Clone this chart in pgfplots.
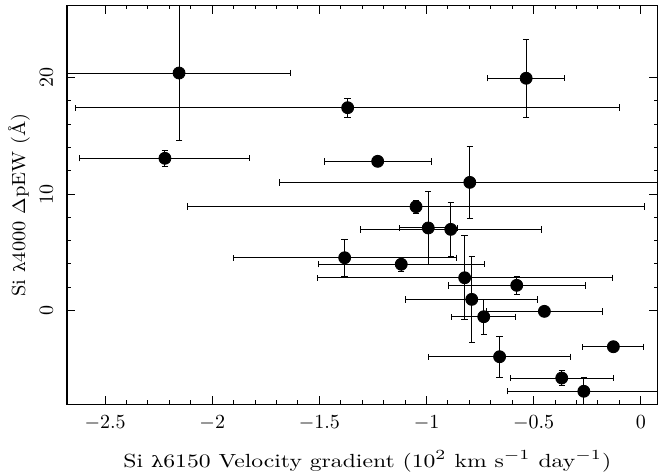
\documentclass[border=0pt]{standalone}
\usepackage{fontspec}
\newfontfamily\dvs{DejaVu Serif}[Scale=0.82]
\usepackage{pgfplots}
\usepackage{graphicx}
\pgfplotsset{compat=1.18}
\pgfplotstableread{
x y ex ey
-2.155 20.40 0.520 5.84
-2.221 13.07 0.397 0.70
-1.368 17.42 1.268 0.80
-0.535 19.95 0.180 3.37
-1.228 12.81 0.250 0.40
-0.798 11.00 0.886 3.07
-1.049 8.91 1.067 0.57
-0.992 7.08 0.136 3.12
-0.887 6.96 0.423 2.35
-1.382 4.52 0.520 1.58
-1.118 3.96 0.388 0.60
-0.822 2.80 0.688 3.62
-0.579 2.15 0.320 0.80
-0.789 0.94 0.307 3.72
-0.733 -0.55 0.150 1.52
-0.450 -0.09 0.270 0.30
-0.128 -3.13 0.142 0.20
-0.659 -3.99 0.330 1.78
-0.369 -5.82 0.240 0.63
-0.266 -6.96 0.357 1.20
}\datatable
\begin{document}
\begin{tikzpicture}
\begin{axis}[
  scale only axis,
  width=295.25pt, height=199.3pt,
  xmin=-2.678, xmax=0.078, ymin=-8.08, ymax=26.19,
  xtick={-2.5,-2,-1.5,-1,-0.5,0},
  ytick={0,10,20},
  minor x tick num=4, minor y tick num=4,
  tick align=inside,
  xtick pos=both, ytick pos=both,
  xticklabel pos=lower, yticklabel pos=left,
  major tick length=4.2pt, minor tick length=1.9pt,
  axis line style={line width=0.6pt},
  every tick/.style={line width=0.5pt, black},
  tick label style={font=\fontsize{10}{12}\selectfont},
  xticklabel shift=2pt,
  yticklabel style={rotate=90, anchor=south},
  yticklabel shift=3.5pt,
  xlabel={\fontsize{9.5}{11}\selectfont\scalebox{1.245}[1]{Si {\dvs λ}6150 Velocity gradient (10$^{2}$ km s$^{-1}$ day$^{-1}$)}},
  ylabel={\fontsize{9.5}{11}\selectfont\scalebox{1.077}[1]{Si {\dvs λ}4000 $\Delta$pEW (\AA)}},
  xlabel style={at={(axis description cs:0.5087,-0.158)}, anchor=base, inner sep=0pt},
  ylabel style={at={(axis description cs:-0.0711,0.5)}, anchor=base, inner sep=0pt},
]
\addplot[only marks, mark=*, mark size=3pt, black,
  error bars/.cd,
    x dir=both, x explicit,
    y dir=both, y explicit,
    error bar style={line width=0.5pt, black},
    error mark options={rotate=90, black, mark size=1.6pt, line width=0.5pt}]
  table[x=x, y=y, x error=ex, y error=ey]{\datatable};
\end{axis}
\pgfresetboundingbox
\path[use as bounding box] ([xshift=-33.5pt,yshift=-35.85pt]current axis.south west) rectangle ([xshift=0.25pt,yshift=2.85pt]current axis.north east);
\end{tikzpicture}
\end{document}
